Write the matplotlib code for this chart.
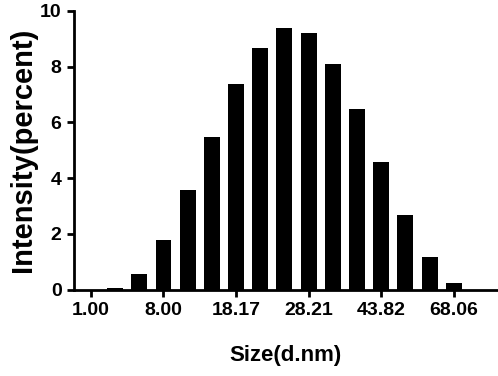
import matplotlib.pyplot as plt
import numpy as np

# DLS size distribution, 16 bins; only every third bin is labelled
intensity = [0.0, 0.07, 0.56, 1.77, 3.57, 5.49, 7.39, 8.68,
             9.39, 9.2, 8.1, 6.49, 4.57, 2.66, 1.15, 0.25]
tick_labels = ['1.00', '8.00', '18.17', '28.21', '43.82', '68.06']

plt.rcParams['font.family'] = ['Liberation Sans', 'DejaVu Sans']
plt.rcParams['font.weight'] = 'bold'

fig = plt.figure(figsize=(4.98, 3.76), dpi=100)
ax = fig.add_axes([0.1486, 0.230, 0.998 - 0.1486, 0.971 - 0.230])

x = np.arange(len(intensity))
ax.bar(x, intensity, width=0.66, color='black')

ax.set_xlim(-0.70, 16.79)
ax.set_ylim(0, 10)
ax.set_yticks(np.arange(0, 11, 2))
ax.set_xticks(x[::3])
ax.set_xticklabels(tick_labels)

for s in ['top', 'right']:
    ax.spines[s].set_visible(False)
for s in ['left', 'bottom']:
    ax.spines[s].set_linewidth(2)

ax.tick_params(width=2, length=5, labelsize=14, pad=4)
ax.set_xlabel('Size(d.nm)', fontsize=16, fontweight='bold', labelpad=19)
ax.set_ylabel('Intensity(percent)', fontsize=21, fontweight='bold', labelpad=2)

fig.savefig('out.png', dpi=100)
